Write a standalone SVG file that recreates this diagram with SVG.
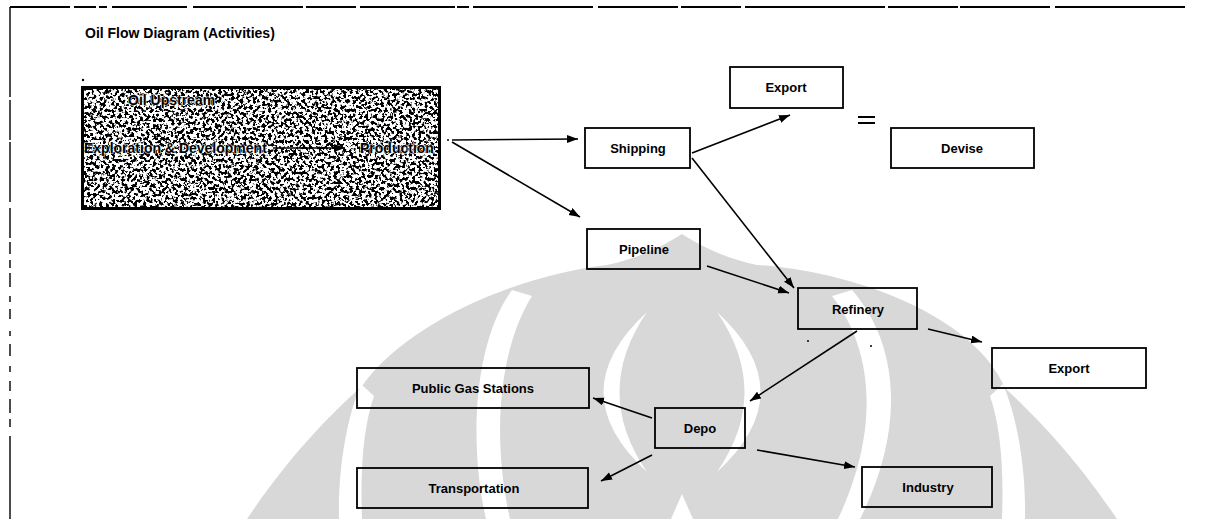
<svg xmlns="http://www.w3.org/2000/svg" width="1210" height="519" viewBox="0 0 1210 519">
<style>
.box{fill:none;stroke:#000;stroke-width:1.8}
.lbl{font-family:"Liberation Sans",Arial,sans-serif;font-size:13px;font-weight:bold;fill:#000;text-anchor:middle}
.conn{stroke:#000;stroke-width:1.6;fill:none;marker-end:url(#ah)}
.wm{fill:#d8d8d8}
.wb{fill:#fff}
</style>
<defs>
<marker id="ah" markerUnits="userSpaceOnUse" markerWidth="12" markerHeight="9" refX="11" refY="4" orient="auto">
<path d="M0,0 L11,4 L0,8 Z" fill="#000"/>
</marker>
<filter id="noise" x="0" y="0" width="100%" height="100%" filterUnits="objectBoundingBox">
<feTurbulence type="fractalNoise" baseFrequency="0.32" numOctaves="2" seed="7" result="t"/>
<feColorMatrix in="t" type="matrix" values="0 0 0 0 0  0 0 0 0 0  0 0 0 0 0  -14 0 0 0 7.2"/>
</filter>
</defs>
<rect width="1210" height="519" fill="#fff"/>
<g id="watermark">
<path class="wm" d="M247,519 C290,455 330,415 362,386 C410,320 520,275 607,265 C640,258 665,245 682,234 C699,245 724,258 757,265 C860,272 975,318 1005,388 C1034,415 1074,455 1117,519 Z"/>
<path class="wb" d="M1003,384 C1018,420 1026,470 1025,519 L1002,519 C1004,465 1000,425 990,396 Z"/>
<path class="wb" d="M361,384 C346,420 338,470 339,519 L362,519 C360,465 364,425 374,396 Z"/>
<path class="wb" d="M512,290 C475,340 468,440 486,519 L510,519 C492,440 498,350 532,296 Z"/>
<path class="wb" d="M852,290 C900,345 905,430 860,519 L838,519 C880,430 874,350 832,296 Z"/>
<path class="wb" d="M647,312 Q560,392 647,472 Q592,392 647,312 Z"/>
<path class="wb" d="M717,312 Q804,392 717,472 Q772,392 717,312 Z"/>
<path class="wb" d="M671,519 L682,494 L693,519 Z"/>
</g>
<g id="frame" stroke="#000" fill="none">
<line x1="10" y1="7" x2="1210" y2="7" stroke-width="2.2" stroke-dasharray="60 4 22 3 8 5 75 6 110 3 50 4 95 2 12 4 120 5 80 3 60 4 140 3 70 2 90 5 130"/>
<line x1="10" y1="7" x2="10" y2="519" stroke-width="1.4" stroke-dasharray="90 3 40 2 60 6 30 4 12 6 8 5 14 9 6 7 10 12 5 8 12 10 6 9 10 8 14 6 8 9"/>
</g>
<g id="title">
<text x="85" y="38" font-family="Liberation Sans,Arial,sans-serif" font-size="14" font-weight="bold">Oil Flow Diagram (Activities)</text>
</g>
<g id="upstream">
<rect x="81" y="86" width="360" height="124" fill="#fff"/>
<rect x="81" y="86" width="360" height="124" fill="#fff" filter="url(#noise)"/>
<rect x="82.5" y="87.5" width="357" height="121" fill="none" stroke="#000" stroke-width="3"/>
<g font-family="Liberation Sans,Arial,sans-serif" font-size="14" font-weight="bold" fill="#000" stroke="#fff" stroke-width="1.2" paint-order="stroke">
<text x="128" y="105">Oil Upstream</text>
<text x="84" y="153">Exploration &amp; Development</text>
<text x="360" y="153">Production</text>
</g>
<line x1="273" y1="148" x2="345" y2="148" stroke="#000" stroke-width="1.6" marker-end="url(#ah)"/>
</g>
<g id="dots" fill="#000">
<circle cx="83" cy="80" r="1.2"/>
<circle cx="448" cy="140" r="1"/>
<circle cx="808" cy="341" r="1"/>
<circle cx="871" cy="346" r="1"/>
</g>
<g id="connectors">
<line class="conn" x1="452" y1="140" x2="578" y2="139"/>
<line class="conn" x1="452" y1="142" x2="580" y2="217"/>
<line class="conn" x1="692" y1="153" x2="790" y2="115"/>
<line class="conn" x1="692" y1="158" x2="794" y2="288"/>
<line class="conn" x1="707" y1="266" x2="789" y2="293"/>
<line class="conn" x1="928" y1="329" x2="982" y2="342"/>
<line class="conn" x1="857" y1="331" x2="750" y2="401"/>
<line class="conn" x1="652" y1="418" x2="593" y2="398"/>
<line class="conn" x1="652" y1="455" x2="601" y2="481"/>
<line class="conn" x1="757" y1="450" x2="855" y2="467"/>
<line x1="858" y1="117" x2="875" y2="117" stroke="#000" stroke-width="2"/>
<line x1="858" y1="123" x2="875" y2="123" stroke="#000" stroke-width="2"/>
</g>
<g id="export1"><rect class="box" x="730" y="67" width="113" height="41"/><text class="lbl" x="786" y="92">Export</text></g>
<g id="shipping"><rect class="box" x="585" y="128" width="105" height="40"/><text class="lbl" x="638" y="153">Shipping</text></g>
<g id="devise"><rect class="box" x="891" y="128" width="143" height="40"/><text class="lbl" x="962" y="153">Devise</text></g>
<g id="pipeline"><rect class="box" x="587" y="229" width="113" height="40"/><text class="lbl" x="644" y="254">Pipeline</text></g>
<g id="refinery"><rect class="box" x="798" y="288" width="119" height="41"/><text class="lbl" x="858" y="314">Refinery</text></g>
<g id="export2"><rect class="box" x="992" y="348" width="154" height="40"/><text class="lbl" x="1069" y="373">Export</text></g>
<g id="public"><rect class="box" x="357" y="368" width="232" height="40"/><text class="lbl" x="473" y="393">Public Gas Stations</text></g>
<g id="depo"><rect class="box" x="655" y="408" width="90" height="40"/><text class="lbl" x="700" y="433">Depo</text></g>
<g id="transportation"><rect class="box" x="357" y="468" width="231" height="40"/><text class="lbl" x="474" y="493">Transportation</text></g>
<g id="industry"><rect class="box" x="862" y="467" width="130" height="40"/><text class="lbl" x="928" y="492">Industry</text></g>
</svg>
